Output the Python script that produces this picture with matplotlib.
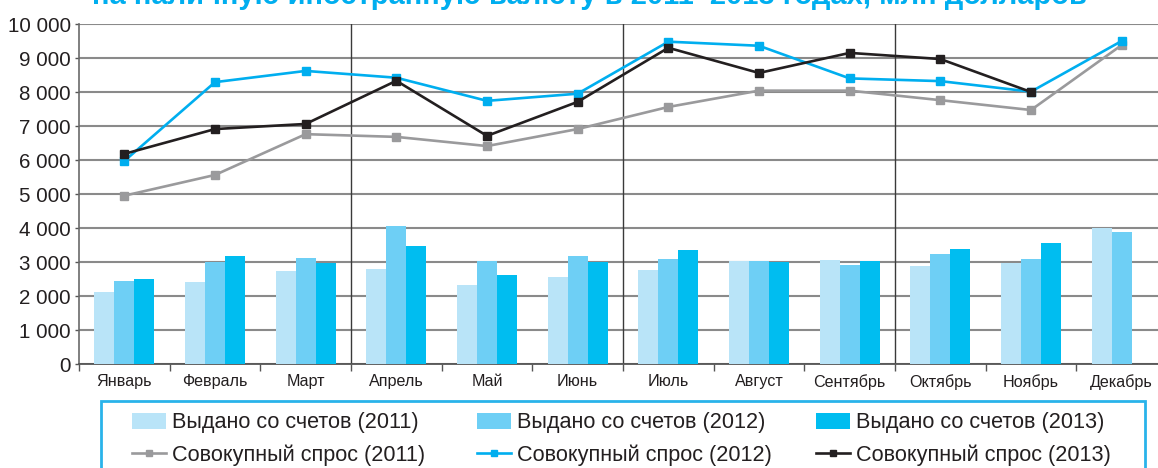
import matplotlib
matplotlib.use("Agg")
import matplotlib.pyplot as plt
from matplotlib.patches import Rectangle, Patch
from matplotlib.lines import Line2D
import numpy as np

plt.rcParams['font.family'] = ['Liberation Sans', 'DejaVu Sans']

months = ["Январь", "Февраль", "Март", "Апрель", "Май", "Июнь",
          "Июль", "Август", "Сентябрь", "Октябрь", "Ноябрь", "Декабрь"]

issued_2011 = [2120, 2400, 2740, 2790, 2320, 2560, 2770, 3020, 3060, 2880, 2960, 4000]
issued_2012 = [2440, 2990, 3120, 4060, 3040, 3180, 3090, 3020, 2910, 3230, 3090, 3870]
issued_2013 = [2500, 3180, 2970, 3480, 2610, 2990, 3340, 3000, 3020, 3380, 3570, np.nan]

demand_2011 = [4950, 5560, 6760, 6680, 6410, 6910, 7560, 8040, 8040, 7760, 7470, 9380]
demand_2012 = [5970, 8290, 8620, 8420, 7740, 7950, 9480, 9360, 8400, 8320, 8010, 9500]
demand_2013 = [6180, 6910, 7060, 8330, 6710, 7710, 9300, 8560, 9150, 8970, 8000, np.nan]

yticks = [0, 1000, 2000, 3000, 4000, 5000, 6000, 7000, 8000, 9000, 10000]
ytick_labels = ["0", "1 000", "2 000", "3 000", "4 000", "5 000", "6 000",
                "7 000", "8 000", "9 000", "10 000"]

title = "на наличную иностранную валюту в 2011–2013 годах, млн долларов"

bar_labels = ["Выдано со счетов (2011)", "Выдано со счетов (2012)", "Выдано со счетов (2013)"]
line_labels = ["Совокупный спрос (2011)", "Совокупный спрос (2012)", "Совокупный спрос (2013)"]

bar_colors = ["#b9e4f8", "#6ecff5", "#00bdf0"]
line_colors = ["#9a9a9c", "#00aeef", "#231f20"]
text_color = "#231f20"

W, H = 1158, 468
fig = plt.figure(figsize=(W / 100, H / 100), dpi=100)
ax = fig.add_axes([79 / W, (H - 364) / H, 1088 / W, 340 / H])

x = np.arange(len(months))
bw = 0.22
for i, (vals, c) in enumerate(zip([issued_2011, issued_2012, issued_2013], bar_colors)):
    ax.bar(x + (i - 1) * bw, vals, width=bw, color=c, zorder=3, linewidth=0)

for vals, c in zip([demand_2011, demand_2012, demand_2013], line_colors):
    ax.plot(x, vals, color=c, lw=1.9, marker='s', markersize=5.2, zorder=4)

ax.set_xlim(-0.5, 11.5)
ax.set_ylim(0, 10000)
ax.set_yticks(yticks)
ax.set_yticklabels(ytick_labels, fontsize=14.8, color=text_color)
ax.tick_params(axis='y', length=3, width=1, color='#555555', pad=3)

ax.set_xticks(np.arange(-0.5, 12, 1))
ax.set_xticklabels([])
ax.tick_params(axis='x', which='major', length=5, width=1, color='#555555')
ax.set_xticks(x, minor=True)
ax.set_xticklabels(months, minor=True, fontsize=11.6, color=text_color)
ax.tick_params(axis='x', which='minor', length=0, pad=7)

ax.grid(axis='y', color='#8a8a8a', lw=1.5, zorder=1)
for q in [2.5, 5.5, 8.5]:
    ax.axvline(q, color='#3a3a3a', lw=1, zorder=2)

for s in ['top', 'right']:
    ax.spines[s].set_visible(False)
ax.spines['left'].set_color('#6a6a6a')
ax.spines['left'].set_linewidth(1.2)
ax.spines['bottom'].set_color('#555555')
ax.spines['bottom'].set_linewidth(1.3)

fig.text(589 / W, 1 - 4 / H, title, ha='center', va='baseline', fontsize=21,
         fontweight='bold', color='#00aeef')

# legend frame
fig.patches.append(Rectangle((101 / W, -0.05), (1145 - 101) / W, (H - 401) / H + 0.05,
                             transform=fig.transFigure, fill=False,
                             edgecolor='#29b3ea', lw=2))

col_x = [128, 473, 812]
for i in range(3):
    handles = [Patch(facecolor=bar_colors[i], edgecolor='none'),
               Line2D([], [], color=line_colors[i], lw=1.9, marker='s', markersize=5)]
    fig.legend(handles, [bar_labels[i], line_labels[i]],
               loc='upper left', bbox_to_anchor=(col_x[i] / W, 1 - 408 / H),
               frameon=False, fontsize=15.6, handlelength=1.55, handleheight=0.8,
               handletextpad=0.28, labelspacing=0.5, borderaxespad=0, borderpad=0.2,
               labelcolor=text_color)

fig.savefig("out.png", dpi=100)
